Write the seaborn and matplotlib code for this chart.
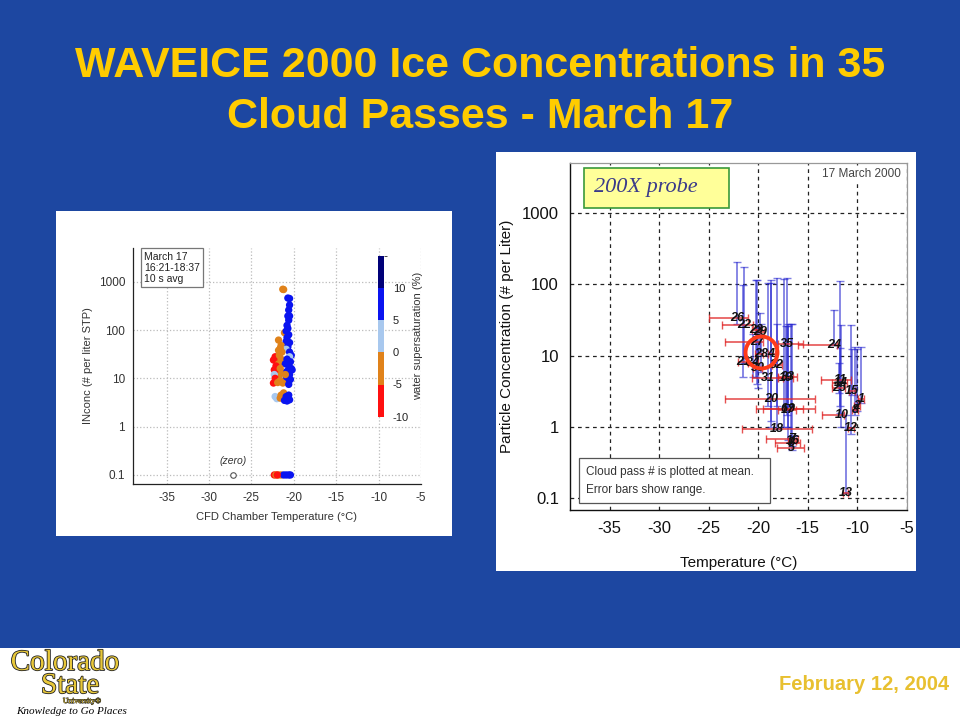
import numpy as np
import pandas as pd
import matplotlib
matplotlib.use("Agg")
import matplotlib.pyplot as plt
import matplotlib.colorbar as mcolorbar
import matplotlib.patheffects as pe
import seaborn as sns
from matplotlib.colors import ListedColormap, BoundaryNorm
from matplotlib.patches import Rectangle
from matplotlib.ticker import MultipleLocator, LogLocator, NullFormatter, FixedLocator, FixedFormatter

# ---------------- text ----------------
title_lines = ["WAVEICE 2000 Ice Concentrations in 35", "Cloud Passes - March 17"]
date_text = "February 12, 2004"

# ---------------- left panel data (CFD) ----------------
cfd_temp = [-21.3, -21.2, -20.7, -20.5, -20.5, -20.6, -20.7, -20.5, -20.6, -20.8,
            -20.7, -21.1, -20.9, -20.6, -20.8, -21.8, -20.9, -20.5, -21.5, -20.7,
            -20.9, -21.6, -21.8, -21.4, -20.5, -20.3, -20.5, -22.2, -21.9, -22.4,
            -22.0, -21.7, -21.5, -21.8, -20.8, -20.4, -20.6, -20.3, -21.0, -22.1,
            -22.3, -21.9, -21.6, -21.4, -21.8, -22.3, -20.8, -20.5, -20.9, -20.4,
            -20.7, -20.2, -22.2, -22.4, -21.6, -21.3, -21.9, -20.6, -21.0,
            -22.2, -22.0, -21.7, -21.5, -21.2, -21.6, -20.9, -20.6, -20.5, -20.8, -21.1,
            -22.3, -22.1, -21.8, -21.5, -21.2, -20.9, -20.6, -20.4, -21.95]
cfd_conc = [700, 690, 460, 450, 330, 260, 195, 195, 160, 125,
            108, 88, 95, 80, 70, 62, 58, 55, 48, 45,
            40, 42, 38, 35, 35, 30, 28, 28, 27, 24,
            22, 30, 25, 20, 25, 22, 18, 16, 20, 18,
            15, 13, 16, 13, 11, 12, 14, 12, 10, 9.5,
            8.5, 15, 10, 8, 9, 8, 8.2, 7.5, 12,
            4.2, 3.8, 4.0, 4.5, 5.0, 3.9, 4.2, 4.5, 3.6, 3.4, 3.5,
            0.1, 0.1, 0.1, 0.1, 0.1, 0.1, 0.1, 0.1, 0.1]
cfd_ss = [-2, -2, 7, 7, 7, 7, 7, 7, 7, 7,
          7, -2, 7, 7, 7, -2, 7, 7, -2, 7,
          3, -2, -2, -2, 7, 7, 3, -7, -7, -7,
          -7, -2, -2, -2, 7, 7, 7, 7, 7, -7,
          -7, -7, -2, -2, -2, 3, 7, 7, 7, 7,
          7, 7, -7, -7, -2, -2, -2, 7, -2,
          3, 3, 3, -2, -2, -2, 7, 7, 7, 7, 7,
          -7, -2, -2, -2, 7, 7, 7, 7, -7]
ss_levels = [-10, -5, 0, 5, 10, 15]
ss_colors = ["#FF1010", "#E0821A", "#A8C8EE", "#0A14F0", "#000078"]
ss_ticks = [-10, -5, 0, 5, 10]
zero_temp = [-27.2]
zero_conc = [0.1]
left_xticks = [-35, -30, -25, -20, -15, -10, -5]
left_yticks = [0.1, 1, 10, 100, 1000]
left_yticklabels = ["0.1", "1", "10", "100", "1000"]

# ---------------- right panel data (200X probe, 35 cloud passes) ----------------
pass_id = list(range(1, 36))
t_mean = [-9.6, -10.0, -16.6, -18.7, -16.6, -17.4, -16.6, -10.2, -16.7, -11.6,
          -11.7, -10.6, -11.1, -11.7, -10.5, -16.5, -17.0, -18.1, -17.2, -18.7,
          -21.5, -21.4, -20.2, -12.3, -11.8, -22.1, -20.1, -19.7, -19.8, -20.0,
          -19.0, -18.1, -17.0, -20.5, -17.1]
t_lo = [-9.9, -10.3, -18.3, -19.0, -18.1, -20.2, -19.2, -10.5, -19.5, -13.6,
        -13.7, -10.9, -11.4, -12.5, -10.8, -17.0, -18.0, -21.6, -18.0, -23.3,
        -22.0, -23.7, -20.6, -16.0, -12.5, -25.0, -23.3, -20.3, -20.2, -20.5,
        -20.6, -18.6, -18.0, -21.0, -18.0]
t_hi = [-9.3, -9.7, -15.8, -18.3, -15.4, -14.3, -16.0, -9.9, -15.5, -11.3,
        -10.6, -10.3, -10.9, -11.0, -10.2, -16.2, -16.2, -14.6, -16.5, -14.3,
        -21.0, -20.5, -19.8, -12.0, -11.2, -21.0, -19.5, -19.5, -19.4, -19.6,
        -17.5, -17.6, -16.05, -20.0, -15.5]
c_mean = [2.5, 2.0, 0.60, 10.7, 0.51, 1.82, 0.69, 1.76, 1.82, 1.5,
          4.5, 0.96, 0.12, 4.1, 3.2, 0.64, 1.76, 0.94, 4.9, 2.5,
          8.2, 26.7, 22.7, 14.0, 3.5, 33.8, 15.6, 10.7, 21.5, 6.8,
          4.9, 7.35, 5.05, 7.8, 14.8]
c_lo = [2.2, 1.7, 0.55, 1.0, 0.48, 1.0, 0.62, 1.5, 0.7, 1.0,
        2.0, 0.8, 0.12, 1.6, 2.8, 0.6, 1.0, 0.94, 2.0, 1.2,
        5.0, 8.0, 5.0, 14.0, 3.0, 28.0, 4.0, 6.0, 12.0, 3.5,
        2.0, 2.0, 0.65, 5.0, 1.5]
c_hi = [13.2, 12.6, 0.75, 116, 0.6, 120, 28, 13.2, 28, 27,
        112, 27, 1.5, 13, 12.6, 0.75, 26, 121, 26, 103,
        97, 175, 114, 44, 8, 208, 114, 28, 39, 25,
        103, 28, 28, 20, 123]
highlight_temp = [-19.7]
highlight_conc = [11.2]
right_xticks = [-35, -30, -25, -20, -15, -10, -5]
right_yticks = [0.1, 1, 10, 100, 1000]
right_yticklabels = ["0.1", "1", "10", "100", "1000"]

# ---------------- style ----------------
sns.set_style("white")
plt.rcParams['font.family'] = ['Liberation Sans', 'DejaVu Sans']
plt.rcParams['axes.unicode_minus'] = False

BG = "#1D47A1"
YEL = "#FFCC00"
W, H = 960.0, 720.0

def fr(x0, y0, x1, y1):
    return [x0 / W, 1 - y1 / H, (x1 - x0) / W, (y1 - y0) / H]

fig = plt.figure(figsize=(9.6, 7.2), dpi=100)
fig.patch.set_facecolor(BG)

# bottom white strip and panel backgrounds
for (x0, y0, x1, y1) in [(0, 648, 960, 720), (56, 211, 452, 536), (496, 152, 916, 571)]:
    r = fr(x0, y0, x1, y1)
    fig.patches.append(Rectangle((r[0], r[1]), r[2], r[3], transform=fig.transFigure,
                                 facecolor="white", edgecolor="none", zorder=-10))

# title
fig.text(0.5, 1 - 66 / H, title_lines[0], ha="center", va="center", color=YEL,
         fontsize=31, fontweight="bold")
fig.text(0.5, 1 - 117 / H, title_lines[1], ha="center", va="center", color=YEL,
         fontsize=31, fontweight="bold")

# date
fig.text(949 / W, 1 - 684 / H, date_text, ha="right", va="center", color="#E8C030",
         fontsize=14.5, fontweight="bold")

# logo text
stroke = [pe.withStroke(linewidth=1.2, foreground="#222222")]
fig.text(65 / W, 1 - 663 / H, "Colorado", ha="center", va="center", color="#E8C83A",
         fontsize=21, family=["Liberation Serif", "DejaVu Serif"], path_effects=stroke)
fig.text(70 / W, 1 - 686 / H, "State", ha="center", va="center", color="#E8C83A",
         fontsize=21, family=["Liberation Serif", "DejaVu Serif"], path_effects=stroke)
fig.text(82 / W, 1 - 701 / H, "University®", ha="center", va="center", color="#E8C83A",
         fontsize=5.5, family=["Liberation Serif", "DejaVu Serif"], path_effects=[pe.withStroke(linewidth=0.6, foreground="#222222")])
fig.text(72 / W, 1 - 711 / H, "Knowledge to Go Places", ha="center", va="center", color="black",
         fontsize=8, style="italic", family=["Liberation Serif", "DejaVu Serif"])

# ---------------- left axes ----------------
axL = fig.add_axes(fr(132.7, 248, 421, 484))
axL.set_facecolor("white")
axL.set_yscale("log")
df = pd.DataFrame({"temp": cfd_temp, "conc": cfd_conc, "ss": cfd_ss})
df["bin"] = pd.cut(df["ss"], bins=ss_levels, labels=False)
pal = {i: c for i, c in enumerate(ss_colors)}
sns.scatterplot(data=df, x="temp", y="conc", hue="bin", palette=pal, s=28,
                linewidth=0, legend=False, ax=axL, zorder=3)
axL.plot(zero_temp, zero_conc, "o", ms=4, mfc="white", mec="#555555", mew=0.8, zorder=3)
axL.text(zero_temp[0], zero_conc[0] * 1.55, "(zero)", ha="center", va="bottom",
         fontsize=7.5, style="italic", color="#333333")
axL.set_xlim(-39, -5)
axL.set_ylim(0.065, 5000)
axL.xaxis.set_major_locator(FixedLocator(left_xticks))
axL.xaxis.set_minor_locator(MultipleLocator(1))
axL.yaxis.set_major_locator(FixedLocator(left_yticks))
axL.yaxis.set_major_formatter(FixedFormatter(left_yticklabels))
axL.yaxis.set_minor_locator(LogLocator(base=10, subs=np.arange(2, 10)))
axL.yaxis.set_minor_formatter(NullFormatter())
axL.grid(True, which="major", color="#BBBBBB", linestyle=":", linewidth=0.9)
for s in ["top", "right"]:
    axL.spines[s].set_visible(False)
for s in ["left", "bottom"]:
    axL.spines[s].set_color("#222222")
    axL.spines[s].set_linewidth(0.9)
axL.tick_params(which="major", direction="inout", length=5, width=0.8, labelsize=8.5,
                colors="#222222", labelcolor="#333333", pad=3)
axL.tick_params(which="minor", direction="inout", length=3, width=0.6, colors="#222222")
axL.set_xlabel("CFD Chamber Temperature (°C)", fontsize=8, color="#333333", labelpad=6)
axL.set_ylabel("INconc (# per liter STP)", fontsize=8, color="#333333", labelpad=4)
axL.text(0.04, 0.985, "March 17\n16:21-18:37\n10 s avg", transform=axL.transAxes,
         ha="left", va="top", fontsize=7.5, color="#222222", linespacing=1.15,
         bbox=dict(boxstyle="square,pad=0.3", facecolor="white", edgecolor="#777777", linewidth=0.9))

# colorbar
cax = fig.add_axes(fr(377.7, 255.7, 384.3, 416.7))
cmap = ListedColormap(ss_colors)
norm = BoundaryNorm(ss_levels, cmap.N)
cb = mcolorbar.ColorbarBase(cax, cmap=cmap, norm=norm, ticks=ss_ticks)
cb.outline.set_visible(False)
cax.tick_params(length=0, labelsize=8, pad=6, labelcolor="#222222")
cb.set_label("water supersaturation (%)", fontsize=8, color="#333333", labelpad=3)

# ---------------- right axes ----------------
axR = fig.add_axes(fr(570, 163, 906.7, 510))
axR.set_facecolor("white")
axR.set_yscale("log")
tm = np.array(t_mean); cm = np.array(c_mean)
xerr = [tm - np.array(t_lo), np.array(t_hi) - tm]
yerr = [cm - np.array(c_lo), np.array(c_hi) - cm]
axR.errorbar(tm, cm, yerr=yerr, fmt="none", ecolor="#2828D0", alpha=0.6,
             elinewidth=1.3, capsize=3, capthick=1.0, zorder=3)
axR.errorbar(tm, cm, xerr=xerr, fmt="none", ecolor="#E02828", alpha=0.8,
             elinewidth=1.2, capsize=3, capthick=1.0, zorder=3)
for pid, t, c in zip(pass_id, t_mean, c_mean):
    axR.text(t, c, str(pid), ha="center", va="center", fontsize=9, fontweight="bold",
             style="italic", color="#111111", zorder=6)
axR.plot(highlight_temp, highlight_conc, "o", ms=23, mfc="none", mec="#FF3B1A", mew=2.8, zorder=7)
axR.set_xlim(-39, -5)
axR.set_ylim(0.069, 5000)
axR.xaxis.set_major_locator(FixedLocator(right_xticks))
axR.xaxis.set_minor_locator(MultipleLocator(1))
axR.yaxis.set_major_locator(FixedLocator(right_yticks))
axR.yaxis.set_major_formatter(FixedFormatter(right_yticklabels))
axR.yaxis.set_minor_locator(LogLocator(base=10, subs=np.arange(2, 10)))
axR.yaxis.set_minor_formatter(NullFormatter())
axR.grid(True, which="major", color="#222222", linestyle=(0, (3, 3)), linewidth=0.9)
for s in ["left", "bottom"]:
    axR.spines[s].set_color("#111111")
    axR.spines[s].set_linewidth(1.0)
for s in ["top", "right"]:
    axR.spines[s].set_color("#999999")
    axR.spines[s].set_linewidth(0.9)
axR.tick_params(which="major", direction="out", length=5, width=0.9, labelsize=12,
                colors="#111111", pad=3)
axR.tick_params(which="minor", direction="out", length=3, width=0.7, colors="#111111")
axR.set_xlabel("Temperature (°C)", fontsize=11, color="#111111", labelpad=14)
axR.set_ylabel("Particle Concentration (# per Liter)", fontsize=11, color="#111111", labelpad=6)

axR.text(0.983, 0.968, "17 March 2000", transform=axR.transAxes, ha="right", va="center",
         fontsize=8.5, color="#444444", zorder=8,
         bbox=dict(boxstyle="square,pad=0.15", facecolor="white", edgecolor="none"))
axR.add_patch(Rectangle((0.0416, 0.870), 0.430, 0.1156, transform=axR.transAxes,
                        facecolor="#FFFF99", edgecolor="#3A9A3A", linewidth=1.2, zorder=8, clip_on=False))
axR.text(0.071, 0.928, "200X probe", transform=axR.transAxes, ha="left", va="center",
         fontsize=16, style="italic", color="#3A3A8A", zorder=9,
         family=["Liberation Serif", "DejaVu Serif"])
axR.add_patch(Rectangle((0.027, 0.020), 0.567, 0.130, transform=axR.transAxes,
                        facecolor="white", edgecolor="#555555", linewidth=0.9, zorder=8))
axR.text(0.0475, 0.1095, "Cloud pass # is plotted at mean.", transform=axR.transAxes,
         ha="left", va="center", fontsize=8.5, color="#333333", zorder=9)
axR.text(0.0475, 0.0576, "Error bars show range.", transform=axR.transAxes,
         ha="left", va="center", fontsize=8.5, color="#333333", zorder=9)

fig.savefig("out.png", dpi=100, facecolor=fig.get_facecolor())
